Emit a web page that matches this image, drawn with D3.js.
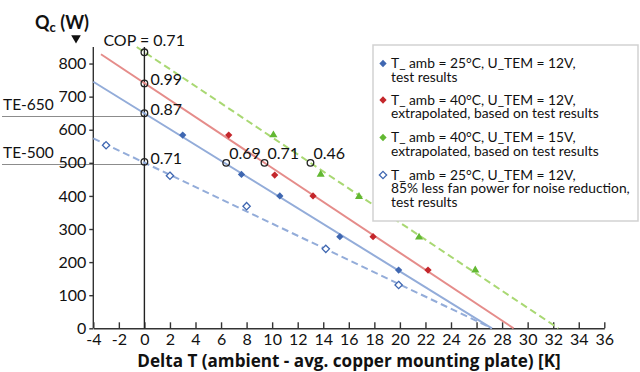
<!DOCTYPE html>
<html><head><meta charset="utf-8">
<script src="https://cdn.jsdelivr.net/npm/d3@7"></script>
<style>
body{margin:0;background:#fff;}
svg{display:block;font-family:Lato,"Open Sans",sans-serif;}
</style></head>
<body><svg id="c" width="640" height="372"></svg>
<script>
// ---- data ----
const xTickValues = [-4,-2,0,2,4,6,8,10,12,14,16,18,20,22,24,26,28,30,32,34,36];
const yTickValues = [0,100,200,300,400,500,600,700,800];
// fitted lines (start / end points, in data units)
const lineBlue25 = [[-4,745],[27.2,0]];
const lineRed40 = [[-3.4,828],[28.9,0]];
const lineGreen40 = [[-0.6,850],[32.4,0]];
const lineBlueQuiet = [[-4,574],[27.2,0]];
// measured / extrapolated points
const ptsBlue25x = [3.0,7.6,10.6,15.3,19.9];
const ptsBlue25y = [584,465,400,277,176];
const ptsRed40x = [6.6,10.2,13.2,17.9,22.2];
const ptsRed40y = [584,463,400,277,176];
const ptsGreen40x = [10.1,13.8,16.8,21.5,25.9];
const ptsGreen40y = [584,465,398,275,176];
const ptsQuietx = [-3.0,2.0,8.0,14.2,19.9];
const ptsQuiety = [553,461,369,240,131];
// COP annotations
const copX = [0,0,0,0,6.4,9.4,13.0];
const copY = [834,740,650,503,500,500,500];
const copLabels = ["COP = 0.71","0.99","0.87","0.71","0.69","0.71","0.46"];
// reference levels
const refLabels = ["TE-650","TE-500"];
const refValues = [640,495];
const legendLabels = [
  ["T_ amb = 25°C, U_TEM = 12V,","test results"],
  ["T_ amb = 40°C, U_TEM = 12V,","extrapolated, based on test results"],
  ["T_ amb = 40°C, U_TEM = 15V,","extrapolated, based on test results"],
  ["T_ amb = 25°C, U_TEM = 12V,","85% less fan power for noise reduction,","test results"]
];

// ---- drawing ----
const svg = d3.select("#c");
const x = d3.scaleLinear([-4,36],[93.3,604.3]);
const y = d3.scaleLinear([0,850],[328.3,47]);

const cBlueLine="#93acd9", cBlueMk="#3f67b1", cRedLine="#e58c8a", cRedMk="#c4262b",
      cGreenLine="#a9d873", cGreenMk="#62b832";

// reference lines
refValues.forEach((v,i)=>{
  svg.append("line").attr("x1",2).attr("x2",x(0)).attr("y1",y(v)).attr("y2",y(v))
    .attr("stroke","#8c8c8c").attr("stroke-width",1.2);
  svg.append("text").attr("x",3).attr("y",y(v)-6).text(refLabels[i])
    .attr("font-size",15.5).attr("fill","#111");
});

// axes
const xAxis = svg.append("g").attr("transform",`translate(0,${y(0)})`)
  .call(d3.axisBottom(x).tickValues(xTickValues).tickFormat(d=>String(d)).tickSize(-6).tickSizeOuter(0).tickPadding(5));
const yAxis = svg.append("g").attr("transform",`translate(${x(-4)},0)`)
  .call(d3.axisLeft(y).tickValues(yTickValues).tickFormat(d=>String(d)).tickSize(4).tickSizeOuter(0).tickPadding(3));
[xAxis,yAxis].forEach(g=>{
  g.selectAll("path,line").attr("stroke","#333").attr("stroke-width",1.4);
  g.selectAll("text").attr("font-size",16).attr("fill","#111").attr("font-family","Lato,'Open Sans',sans-serif");
});
yAxis.select(".domain").attr("d",`M0,${y(0)}V${y(850)}`);

// vertical zero line
svg.append("line").attr("x1",x(0)).attr("x2",x(0)).attr("y1",y(850)).attr("y2",y(0))
  .attr("stroke","#222").attr("stroke-width",1.4);

// fitted lines
const lg = d3.line().x(d=>x(d[0])).y(d=>y(d[1]));
svg.append("path").attr("d",lg(lineBlueQuiet)).attr("fill","none").attr("stroke",cBlueLine).attr("stroke-width",2).attr("stroke-dasharray","7,4");
svg.append("path").attr("d",lg(lineBlue25)).attr("fill","none").attr("stroke",cBlueLine).attr("stroke-width",2);
svg.append("path").attr("d",lg(lineRed40)).attr("fill","none").attr("stroke",cRedLine).attr("stroke-width",2);
svg.append("path").attr("d",lg(lineGreen40)).attr("fill","none").attr("stroke",cGreenLine).attr("stroke-width",2).attr("stroke-dasharray","7,4");

// markers
const diamond = d3.symbol().type(d3.symbolDiamond2).size(34);
const tri = d3.symbol().type(d3.symbolTriangle).size(28);
function marks(xs,ys,sym,fill,stroke){
  svg.append("g").selectAll("path").data(xs.map((v,i)=>[v,ys[i]])).join("path")
    .attr("d",sym).attr("transform",d=>`translate(${x(d[0])},${y(d[1])})`)
    .attr("fill",fill).attr("stroke",stroke).attr("stroke-width",stroke==="none"?0:1.3);
}
marks(ptsBlue25x,ptsBlue25y,diamond,cBlueMk,"none");
marks(ptsRed40x,ptsRed40y,diamond,cRedMk,"none");
marks(ptsGreen40x,ptsGreen40y,tri,cGreenMk,"none");
marks(ptsQuietx,ptsQuiety,diamond,"#fff",cBlueMk);

// COP circles + labels
copX.forEach((v,i)=>{
  svg.append("circle").attr("cx",x(v)).attr("cy",y(copY[i])).attr("r",3.3)
    .attr("fill","none").attr("stroke","#222").attr("stroke-width",1.3);
  const t = svg.append("text").attr("font-size",16).attr("fill","#111").text(copLabels[i]);
  if(i===0) t.attr("x",x(v)-41).attr("y",y(copY[i])-6);
  else if(i<4) t.attr("x",x(v)+6).attr("y",y(copY[i])+2);
  else t.attr("x",x(v)+3).attr("y",y(copY[i])-4);
});

// axis titles
svg.append("text").attr("x",349).attr("y",367).attr("text-anchor","middle")
  .attr("font-weight","bold").attr("font-size",17.1).attr("fill","#111")
  .attr("font-family","'Open Sans',sans-serif")
  .text("Delta T (ambient - avg. copper mounting plate) [K]");
const yt = svg.append("text").attr("x",35).attr("y",29).attr("font-weight","bold").attr("font-size",18).attr("fill","#111");
yt.append("tspan").text("Q");
yt.append("tspan").attr("font-size",13).attr("dy",3).text("c");
yt.append("tspan").attr("dy",-3).text(" (W)");
svg.append("path").attr("d",d3.symbol().type(d3.symbolTriangle).size(40)).attr("fill","#111")
  .attr("transform","translate(76,38) rotate(180)");

// legend
const lgG = svg.append("g");
lgG.append("rect").attr("x",373).attr("y",45).attr("width",265).attr("height",176)
  .attr("fill","#fff").attr("stroke","#d2d2d2").attr("stroke-width",1.5);
const legSyms = [
  {sym:diamond,fill:cBlueMk,stroke:"none"},
  {sym:diamond,fill:cRedMk,stroke:"none"},
  {sym:diamond,fill:cGreenMk,stroke:"none"},
  {sym:diamond,fill:"#fff",stroke:cBlueMk}
];
const entryY = [68,104.5,142,179.5];
legendLabels.forEach((lines,i)=>{
  const s = legSyms[i];
  lgG.append("path").attr("d",s.sym).attr("transform",`translate(383,${entryY[i]-4.5})`)
    .attr("fill",s.fill).attr("stroke",s.stroke).attr("stroke-width",s.stroke==="none"?0:1.3);
  const t = lgG.append("text").attr("x",391).attr("y",entryY[i]).attr("font-size",13.8).attr("fill","#111");
  lines.forEach((ln,j)=>{
    t.append("tspan").attr("x",391).attr("dy",j===0?0:13.8).text(ln);
  });
});
</script></body></html>
